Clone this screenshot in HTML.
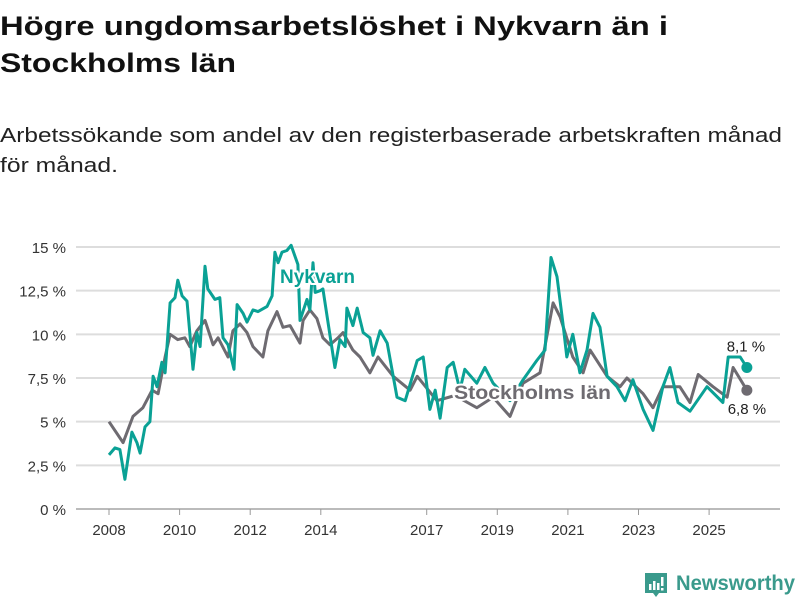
<!DOCTYPE html>
<html><head><meta charset="utf-8">
<style>
html,body{margin:0;padding:0;background:#fff;}
svg{display:block;font-family:"Liberation Sans","DejaVu Sans",sans-serif;}
</style></head>
<body>
<svg id="chart" width="800" height="600" viewBox="0 0 800 600" xmlns="http://www.w3.org/2000/svg">
  <text x="0" y="35" font-size="27" font-weight="bold" fill="#111" textLength="668" lengthAdjust="spacingAndGlyphs">Högre ungdomsarbetslöshet i Nykvarn än i</text>
  <text x="0" y="72" font-size="27" font-weight="bold" fill="#111" textLength="236" lengthAdjust="spacingAndGlyphs">Stockholms län</text>
  <text x="0" y="142" font-size="20" fill="#222" textLength="782" lengthAdjust="spacingAndGlyphs">Arbetssökande som andel av den registerbaserade arbetskraften månad</text>
  <text x="0" y="172" font-size="20" fill="#222" textLength="118" lengthAdjust="spacingAndGlyphs">för månad.</text>
  <g id="grid"></g>
  <g id="yaxis"></g>
  <g id="xaxis"></g>
  <g id="series"></g>
  <g>
    <path d="M645 573 h22 v20 h-8 l-3 4 l-3 -4 h-8 z" fill="#3a9a8c"/>
    <rect x="649" y="584" width="2.5" height="6" fill="#fff"/>
    <rect x="653" y="581" width="2.5" height="9" fill="#fff"/>
    <rect x="657" y="583" width="2.5" height="7" fill="#fff"/>
    <rect x="661" y="577" width="2.5" height="9" fill="#fff"/>
    <rect x="661" y="588" width="2.5" height="2.5" fill="#fff"/>
    <text x="676" y="590" font-size="21" font-weight="bold" fill="#3a9a8c" textLength="119" lengthAdjust="spacingAndGlyphs">Newsworthy</text>
  </g>
</svg>
<script>
const yTicks = [0, 2.5, 5, 7.5, 10, 12.5, 15];
const yTickLabels = ["0 %", "2,5 %", "5 %", "7,5 %", "10 %", "12,5 %", "15 %"];
const xTicks = [2008, 2010, 2012, 2014, 2017, 2019, 2021, 2023, 2025];
const stockholmDates = [2008.00,2008.40,2008.68,2008.96,2009.22,2009.39,2009.59,2009.73,2009.95,2010.15,2010.29,2010.49,2010.72,2010.95,2011.09,2011.37,2011.51,2011.71,2011.91,2012.08,2012.36,2012.50,2012.76,2012.93,2013.13,2013.41,2013.50,2013.69,2013.89,2014.06,2014.26,2014.49,2014.63,2014.91,2015.11,2015.39,2015.62,2016.05,2016.53,2016.73,2017.29,2017.80,2018.42,2018.88,2019.36,2019.73,2020.21,2020.58,2020.78,2021.14,2021.43,2021.63,2022.11,2022.48,2022.67,2023.13,2023.41,2023.69,2024.17,2024.46,2024.69,2025.11,2025.51,2025.68,2026.07];
const stockholmValues = [5.0,3.8,5.3,5.8,6.8,6.6,8.7,10.0,9.7,9.8,9.3,10.2,10.8,9.4,9.8,8.7,10.2,10.6,10.1,9.3,8.7,10.2,11.3,10.4,10.5,9.5,10.8,11.4,10.9,9.8,9.4,9.8,10.1,9.1,8.7,7.8,8.7,7.6,6.8,7.6,6.2,6.5,5.8,6.4,5.3,7.2,7.8,11.8,11.0,8.7,7.8,9.1,7.6,7.0,7.5,6.6,5.8,7.0,7.0,6.1,7.7,7.0,6.4,8.1,6.8];
const nykvarnDates = [2008.00,2008.17,2008.31,2008.45,2008.65,2008.79,2008.88,2009.02,2009.16,2009.25,2009.36,2009.50,2009.59,2009.73,2009.87,2009.95,2010.07,2010.21,2010.38,2010.49,2010.58,2010.72,2010.80,2011.00,2011.14,2011.23,2011.37,2011.54,2011.63,2011.80,2011.91,2012.08,2012.22,2012.48,2012.62,2012.70,2012.79,2012.90,2013.04,2013.16,2013.35,2013.41,2013.61,2013.69,2013.78,2013.84,2013.98,2014.06,2014.40,2014.54,2014.69,2014.74,2014.91,2015.03,2015.20,2015.39,2015.48,2015.68,2015.88,2016.16,2016.39,2016.73,2016.90,2017.09,2017.24,2017.38,2017.58,2017.75,2017.94,2018.08,2018.42,2018.65,2018.88,2019.36,2019.73,2020.12,2020.35,2020.52,2020.69,2020.86,2020.97,2021.14,2021.34,2021.54,2021.71,2021.91,2022.11,2022.39,2022.62,2022.84,2023.13,2023.41,2023.69,2023.89,2024.12,2024.46,2024.94,2025.39,2025.54,2025.88,2026.07];
const nykvarnValues = [3.1,3.5,3.4,1.7,4.4,3.8,3.2,4.7,5.0,7.6,7.0,8.4,7.8,11.8,12.1,13.1,12.2,11.9,8.0,10.1,9.3,13.9,12.6,12.0,12.1,9.8,9.4,8.0,11.7,11.2,10.7,11.4,11.3,11.6,12.2,14.7,14.1,14.7,14.8,15.1,14.0,10.8,12.0,11.4,14.1,12.4,12.5,12.6,8.1,9.7,9.3,11.5,10.5,11.5,10.1,9.8,8.8,10.2,9.5,6.4,6.2,8.5,8.7,5.7,6.8,5.2,8.1,8.4,6.8,8.0,7.2,8.1,7.2,6.2,7.4,8.5,9.1,14.4,13.3,10.6,8.7,10.0,7.8,9.1,11.2,10.4,7.6,7.0,6.2,7.4,5.7,4.5,7.0,8.1,6.1,5.6,7.0,6.1,8.7,8.7,8.1];
const stockholmLabel = "6,8 %";
const nykvarnLabel = "8,1 %";

const NS = "http://www.w3.org/2000/svg";
function yScale(v){ return 509 - v * (262/15); }
function xScale(t){ return 109 + (t - 2008) * 35.3; }
function mk(tag, attrs, parent){
  const el = document.createElementNS(NS, tag);
  for (const k in attrs) el.setAttribute(k, attrs[k]);
  parent.appendChild(el);
  return el;
}
const grid = document.getElementById('grid');
const yaxis = document.getElementById('yaxis');
const xaxis = document.getElementById('xaxis');
const series = document.getElementById('series');

yTicks.forEach((v, i) => {
  const ln = mk('line', {x1: 76, x2: 780, y1: yScale(v), y2: yScale(v), stroke: i === 0 ? '#bbb' : '#ddd', 'stroke-width': 2}, grid);
  
  
  const t = mk('text', {x: 66, y: yScale(v) + 6, 'font-size': 15, fill: '#333', 'text-anchor': 'end'}, yaxis);
  t.textContent = yTickLabels[i];
  
  
});
xTicks.forEach(yr => {
  const tk = mk('line', {x1: xScale(yr), x2: xScale(yr), y1: 509, y2: 515, stroke: '#999', 'stroke-width': 1}, xaxis);
  
  
  const t = mk('text', {x: xScale(yr), y: 535, 'font-size': 15, fill: '#333', 'text-anchor': 'middle'}, xaxis);
  t.textContent = String(yr);
  
  
});
function path(dates, vals){
  return dates.map((d, i) => (i ? 'L' : 'M') + xScale(d).toFixed(1) + ' ' + yScale(vals[i]).toFixed(1)).join(' ');
}
const sl = mk('path', {d: path(stockholmDates, stockholmValues), fill: 'none', stroke: '#6e6b71', 'stroke-width': 3, 'stroke-linejoin': 'round'}, series);


const nl = mk('path', {d: path(nykvarnDates, nykvarnValues), fill: 'none', stroke: '#0aa195', 'stroke-width': 3, 'stroke-linejoin': 'round'}, series);



const sLast = stockholmDates.length - 1, nLast = nykvarnDates.length - 1;
const sd = mk('circle', {cx: xScale(stockholmDates[sLast]), cy: yScale(stockholmValues[sLast]), r: 5.5, fill: '#6e6b71'}, series);


const nd = mk('circle', {cx: xScale(nykvarnDates[nLast]), cy: yScale(nykvarnValues[nLast]), r: 5.5, fill: '#0aa195'}, series);


const sv = mk('text', {x: xScale(stockholmDates[sLast]), y: yScale(stockholmValues[sLast]) + 24, 'font-size': 15, fill: '#222', 'text-anchor': 'middle'}, series);
sv.textContent = stockholmLabel;


const nv = mk('text', {x: xScale(nykvarnDates[nLast]) - 1, y: yScale(nykvarnValues[nLast]) - 16, 'font-size': 15, fill: '#222', 'text-anchor': 'middle'}, series);
nv.textContent = nykvarnLabel;



const nlab = mk('text', {x: 280, y: 283, 'font-size': 19, 'font-weight': 'bold', fill: '#0aa195', stroke: '#fff', 'stroke-width': 4, 'paint-order': 'stroke'}, series);
nlab.textContent = 'Nykvarn';


const slab = mk('text', {x: 454, y: 399, 'font-size': 19, 'font-weight': 'bold', fill: '#6e6b71', stroke: '#fff', 'stroke-width': 4, 'paint-order': 'stroke', textLength: 157, lengthAdjust: 'spacingAndGlyphs'}, series);
slab.textContent = 'Stockholms län';


</script>
</body></html>
